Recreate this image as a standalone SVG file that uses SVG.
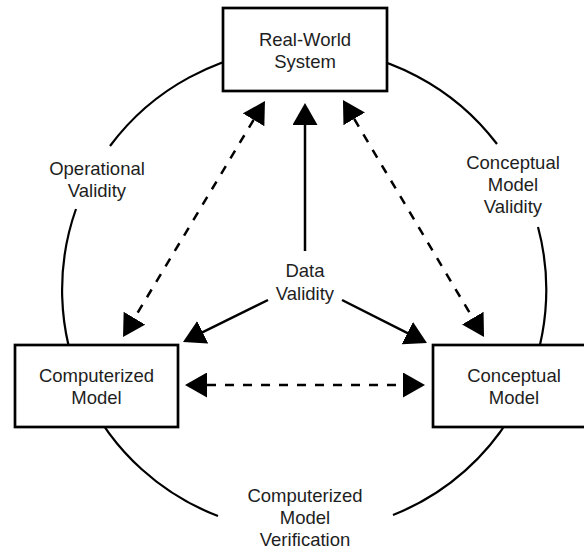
<svg xmlns="http://www.w3.org/2000/svg" width="584" height="550" viewBox="0 0 584 550">
<style>
.box{fill:#fff;stroke:#000;stroke-width:2.7}
.arc{fill:none;stroke:#000;stroke-width:2.2}
.ln{fill:none;stroke:#000;stroke-width:2.5}
.dash{stroke-dasharray:9 9}
text{font-family:"Liberation Sans",Arial,sans-serif;font-size:18.5px;fill:#1e1e1e;text-anchor:middle}
</style>
<defs>
<marker id="ah" markerUnits="userSpaceOnUse" viewBox="0 0 22 25" markerWidth="22" markerHeight="25" refX="18" refY="12.5" orient="auto-start-reverse">
<path d="M0,0 L22,12.5 L0,25 Z" fill="#000"/>
</marker>
</defs>
<rect width="584" height="550" fill="#fff"/>
<g id="connectors">
<path class="arc" d="M110,146 A242,242 0 0 1 497,144"/>
<path class="arc" d="M538,227 A242,242 0 0 1 393,515"/>
<path class="arc" d="M218,516 A242,242 0 0 1 76,209"/>
</g>
<g id="real-world-system">
<rect class="box" x="223" y="8" width="164" height="83"/>
<text x="305" y="45.7">Real-World</text>
<text x="305" y="68.3">System</text>
</g>
<g id="computerized-model">
<rect class="box" x="15" y="345" width="163" height="82"/>
<text x="96.5" y="381.7">Computerized</text>
<text x="96.5" y="404">Model</text>
</g>
<g id="conceptual-model">
<rect class="box" x="433" y="345" width="163" height="82"/>
<text x="514" y="381.7">Conceptual</text>
<text x="514" y="404">Model</text>
</g>
<g id="arrows">
<line class="ln dash" x1="262.9" y1="104.4" x2="125.1" y2="333.6" marker-start="url(#ah)" marker-end="url(#ah)"/>
<line class="ln dash" x1="345" y1="103.4" x2="482" y2="333.6" marker-start="url(#ah)" marker-end="url(#ah)"/>
<line class="ln dash" x1="189" y1="385" x2="421" y2="385" marker-start="url(#ah)" marker-end="url(#ah)"/>
<line class="ln" x1="305" y1="251" x2="305" y2="107" marker-end="url(#ah)"/>
<line class="ln" x1="268" y1="300" x2="186.6" y2="340.2" marker-end="url(#ah)"/>
<line class="ln" x1="342" y1="300" x2="423.4" y2="341.2" marker-end="url(#ah)"/>
</g>
<g id="labels">
<text x="97" y="175">Operational</text>
<text x="97" y="196.7">Validity</text>
<text x="513" y="169.3">Conceptual</text>
<text x="513" y="191">Model</text>
<text x="513" y="213">Validity</text>
<text x="305" y="277">Data</text>
<text x="305" y="300">Validity</text>
<text x="305" y="501.7">Computerized</text>
<text x="305" y="524">Model</text>
<text x="305" y="546">Verification</text>
</g>
</svg>
